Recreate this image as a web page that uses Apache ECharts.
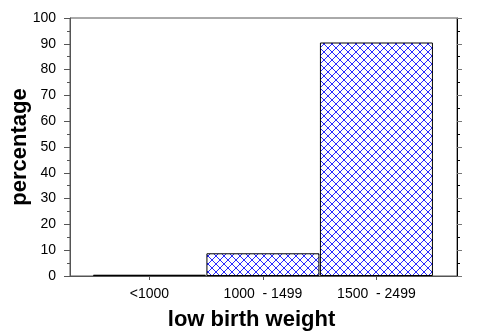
<!DOCTYPE html>
<html>
<head>
<meta charset="utf-8">
<script src="https://cdn.jsdelivr.net/npm/echarts@6/dist/echarts.min.js"></script>
<style>
  html, body { margin: 0; padding: 0; background: #fff; }
  #chart { width: 500px; height: 335px; }
</style>
</head>
<body>
<div id="chart"></div>
<script>
// weight classes (grams) and share of low birth weight babies (%)
const categories = ['<1000', '1000  - 1499', '1500  - 2499'];
const percentages = [0.5, 8.8, 90.5];
const yMin = 0;
const yMax = 100;
const yStep = 10;

// blue crosshatch tile
function hatchPattern() {
  const c = document.createElement('canvas');
  c.width = 8;
  c.height = 8;
  const ctx = c.getContext('2d');
  ctx.fillStyle = '#fff';
  ctx.fillRect(0, 0, 8, 8);
  ctx.strokeStyle = '#2a2aff';
  ctx.lineWidth = 1;
  ctx.beginPath();
  ctx.moveTo(0, 0); ctx.lineTo(8, 8);
  ctx.moveTo(8, 0); ctx.lineTo(0, 8);
  ctx.stroke();
  return c;
}

const chart = echarts.init(document.getElementById('chart'), null, { renderer: 'canvas' });
const font = 'Liberation Sans, Arial, sans-serif';
const axisGray = '#555';
const catPos = categories.map((_, i) => i + 1);

chart.setOption({
  animation: false,
  grid: {
    left: 70, right: 43, top: 18, bottom: 59,
    outerBoundsMode: 'none',
    show: true, borderColor: axisGray, borderWidth: 1
  },
  xAxis: {
    type: 'value',
    min: 0.3,
    max: 3.71,
    name: 'low birth weight',
    nameLocation: 'middle',
    nameGap: 33,
    nameMoveOverlap: false,
    nameTextStyle: { fontFamily: font, fontSize: 22, fontWeight: 'bold', color: '#000', padding: [0, 24, 0, 0] },
    axisLine: { show: true, lineStyle: { color: axisGray } },
    axisTick: { show: true, inside: false, length: 4, customValues: catPos, lineStyle: { color: axisGray } },
    axisLabel: {
      customValues: catPos,
      formatter: (v) => categories[Math.round(v) - 1] || '',
      fontFamily: font, fontSize: 14, color: '#000', margin: 11
    },
    splitLine: { show: false }
  },
  yAxis: [
    {
      type: 'value',
      min: yMin,
      max: yMax,
      interval: yStep,
      name: 'percentage',
      nameLocation: 'middle',
      nameGap: 39,
      nameMoveOverlap: false,
      nameTextStyle: { fontFamily: font, fontSize: 22, fontWeight: 'bold', color: '#000' },
      axisLine: { show: true, lineStyle: { color: axisGray } },
      axisTick: { show: true, length: 6, lineStyle: { color: axisGray } },
      minorTick: { show: true, splitNumber: 2, length: 3, lineStyle: { color: axisGray } },
      axisLabel: { fontFamily: font, fontSize: 14, color: '#000', margin: 14 },
      splitLine: { show: false }
    },
    {
      type: 'value',
      position: 'right',
      min: yMin,
      max: yMax,
      interval: yStep,
      axisLine: { show: true, lineStyle: { color: '#000' } },
      axisTick: { show: true, length: 5, lineStyle: { color: '#777' } },
      minorTick: { show: true, splitNumber: 2, length: 3, lineStyle: { color: '#000' } },
      axisLabel: { show: false },
      splitLine: { show: false }
    }
  ],
  series: [{
    type: 'bar',
    barWidth: 113,
    data: percentages.map((p, i) => [catPos[i], p]),
    itemStyle: {
      color: { image: hatchPattern(), repeat: 'repeat' },
      borderColor: '#000',
      borderWidth: 1
    }
  }]
});
</script>
</body>
</html>
